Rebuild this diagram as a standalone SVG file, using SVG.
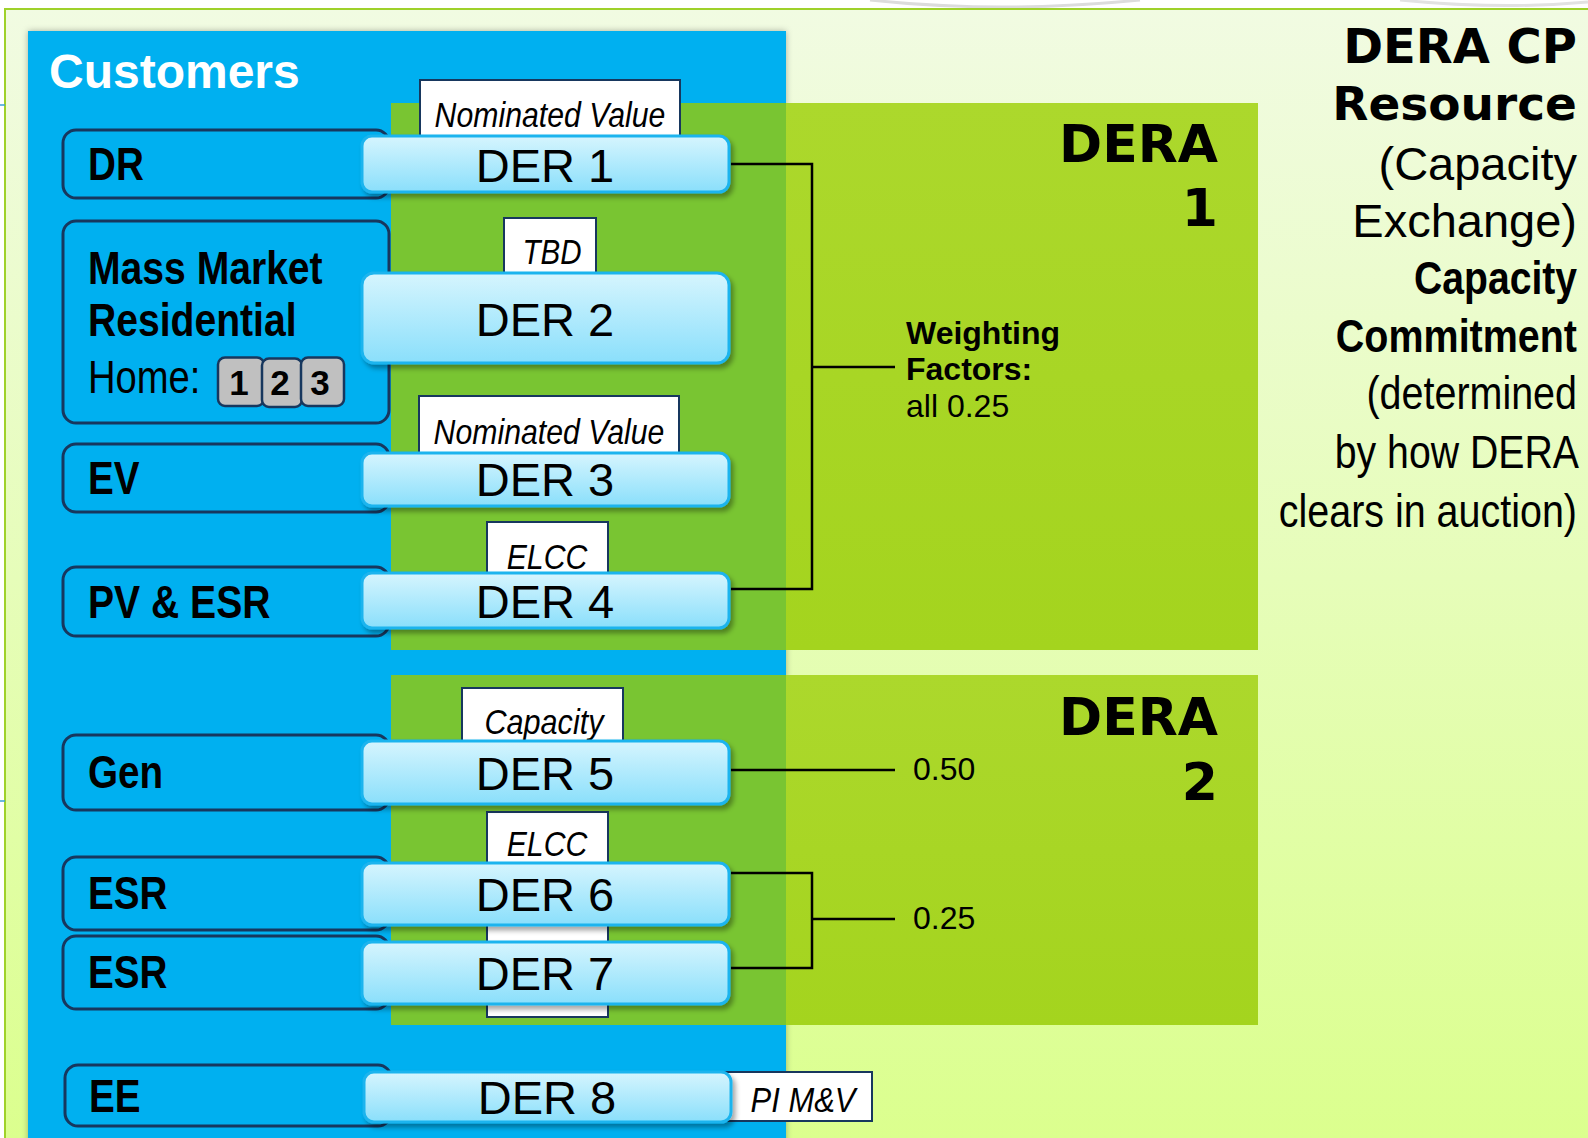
<svg xmlns="http://www.w3.org/2000/svg" width="1588" height="1138" viewBox="0 0 1588 1138">
<defs>
  <linearGradient id="bg" x1="0" y1="0" x2="0" y2="1">
    <stop offset="0" stop-color="#f1fbe2"/>
    <stop offset="0.5" stop-color="#e6fdb9"/>
    <stop offset="1" stop-color="#dbff8d"/>
  </linearGradient>
  <linearGradient id="derFill" x1="0" y1="0" x2="0" y2="1">
    <stop offset="0" stop-color="#d6f5fe"/>
    <stop offset="1" stop-color="#8adffb"/>
  </linearGradient>
  <linearGradient id="deraR" x1="0" y1="0" x2="0" y2="1">
    <stop offset="0" stop-color="#acd82c"/>
    <stop offset="1" stop-color="#a4d41e"/>
  </linearGradient>
  <filter id="shadow" x="-10%" y="-20%" width="125%" height="160%">
    <feDropShadow dx="3" dy="4" stdDeviation="2.5" flood-color="#000" flood-opacity="0.35"/>
  </filter>
  <filter id="panelShadow" x="-5%" y="-5%" width="110%" height="110%">
    <feDropShadow dx="0" dy="0" stdDeviation="3" flood-color="#000" flood-opacity="0.3"/>
  </filter>
</defs>
<style>
  .cust { fill: #00b0f0; stroke: #17375e; stroke-width: 3; }
  .lbl { fill: #ffffff; stroke: #17375e; stroke-width: 2; }
  .der { fill: url(#derFill); stroke: #1ab4ee; stroke-width: 3; filter: url(#shadow); }
  .num { fill: #c0c0c0; stroke: #17375e; stroke-width: 2.5; }
  .cl { font-family: "Liberation Sans", Arial, sans-serif; font-weight: bold; font-size: 46px; fill: #000; }
  .reg { font-family: "Liberation Sans", Arial, sans-serif; font-size: 46px; fill: #000; }
  .it { font-family: "Liberation Sans", Arial, sans-serif; font-style: italic; font-size: 36px; fill: #000; text-anchor: middle; }
  .dt { font-family: "Liberation Sans", Arial, sans-serif; font-size: 47px; fill: #000; text-anchor: middle; }
  .wt { font-family: "Liberation Sans", Arial, sans-serif; font-size: 32px; fill: #000; }
  .heavy { font-family: "DejaVu Sans", sans-serif; font-weight: bold; fill: #000; text-anchor: end; }
  .conn { fill: none; stroke: #000; stroke-width: 2.5; }
</style>

<!-- background -->
<rect x="0" y="0" width="1588" height="1138" fill="#ffffff"/>
<path d="M870 0 Q1000 14 1140 0" fill="none" stroke="#dcdcdc" stroke-width="3"/>
<path d="M1400 0 Q1500 10 1588 2" fill="none" stroke="#e2e2e2" stroke-width="3"/>
<rect x="5" y="9" width="1590" height="1140" fill="url(#bg)" stroke="#9fd12a" stroke-width="2"/>
<line x1="0" y1="105" x2="5" y2="105" stroke="#3aa0d8" stroke-width="1.5"/>
<line x1="0" y1="801" x2="5" y2="801" stroke="#3aa0d8" stroke-width="1.5"/>

<!-- customers panel -->
<g id="customers-panel">
  <rect x="28" y="31" width="758" height="1120" fill="#00b0f0" filter="url(#panelShadow)"/>
  <text x="49" y="88" font-family="Liberation Sans, Arial, sans-serif" font-weight="bold" font-size="48" fill="#ffffff">Customers</text>
</g>

<!-- DERA groups -->
<g id="dera1">
  <rect x="391" y="103" width="395" height="547" fill="#79c532"/>
  <rect x="786" y="103" width="472" height="547" fill="url(#deraR)"/>
  <text class="heavy" x="1218" y="162" font-size="52">DERA</text>
  <text class="heavy" x="1218" y="226" font-size="52">1</text>
</g>
<g id="dera2">
  <rect x="391" y="675" width="395" height="350" fill="#79c532"/>
  <rect x="786" y="675" width="472" height="350" fill="url(#deraR)"/>
  <text class="heavy" x="1218" y="735" font-size="52">DERA</text>
  <text class="heavy" x="1218" y="800" font-size="52">2</text>
</g>

<!-- customer boxes -->
<g id="cust-dr"><rect class="cust" x="63" y="130" width="326" height="68" rx="13"/>
  <text class="cl" transform="translate(88,180) scale(0.84,1)">DR</text></g>
<g id="cust-mass"><rect class="cust" x="63" y="221" width="326" height="202" rx="13"/>
  <text class="cl" transform="translate(88,284) scale(0.85,1)">Mass Market</text>
  <text class="cl" transform="translate(88,336) scale(0.85,1)">Residential</text>
  <text class="reg" transform="translate(88,393) scale(0.83,1)">Home:</text>
  <g id="home-numbers">
    <rect class="num" x="218" y="357.5" width="46" height="48.5" rx="7"/>
    <rect class="num" x="262" y="358.5" width="40" height="48.5" rx="7"/>
    <rect class="num" x="301" y="357.5" width="43" height="48.5" rx="7"/>
    <text x="239" y="395" font-family="Liberation Sans, Arial, sans-serif" font-weight="bold" font-size="35" text-anchor="middle">1</text>
    <text x="280" y="395" font-family="Liberation Sans, Arial, sans-serif" font-weight="bold" font-size="35" text-anchor="middle">2</text>
    <text x="320" y="395" font-family="Liberation Sans, Arial, sans-serif" font-weight="bold" font-size="35" text-anchor="middle">3</text>
  </g></g>
<g id="cust-ev"><rect class="cust" x="63" y="444" width="326" height="68" rx="13"/>
  <text class="cl" transform="translate(88,494) scale(0.84,1)">EV</text></g>
<g id="cust-pv"><rect class="cust" x="63" y="567" width="326" height="69" rx="13"/>
  <text class="cl" transform="translate(88,618) scale(0.85,1)">PV &amp; ESR</text></g>
<g id="cust-gen"><rect class="cust" x="63" y="735" width="326" height="75" rx="13"/>
  <text class="cl" transform="translate(88,788) scale(0.84,1)">Gen</text></g>
<g id="cust-esr1"><rect class="cust" x="63" y="857" width="326" height="73" rx="13"/>
  <text class="cl" transform="translate(88,909) scale(0.84,1)">ESR</text></g>
<g id="cust-esr2"><rect class="cust" x="63" y="936" width="326" height="73" rx="13"/>
  <text class="cl" transform="translate(88,988) scale(0.84,1)">ESR</text></g>
<g id="cust-ee"><rect class="cust" x="65" y="1065" width="326" height="61" rx="13"/>
  <text class="cl" transform="translate(89,1112) scale(0.84,1)">EE</text></g>

<!-- value label boxes -->
<g id="lbl-nv1"><rect class="lbl" x="420" y="80" width="260" height="62"/>
  <text class="it" transform="translate(550,127) scale(0.84,1)">Nominated Value</text></g>
<g id="lbl-tbd"><rect class="lbl" x="504" y="218" width="92" height="60"/>
  <text class="it" transform="translate(552,264) scale(0.82,1)">TBD</text></g>
<g id="lbl-nv2"><rect class="lbl" x="419" y="396" width="260" height="62"/>
  <text class="it" transform="translate(549,444) scale(0.84,1)">Nominated Value</text></g>
<g id="lbl-elcc1"><rect class="lbl" x="487" y="522" width="121" height="56"/>
  <text class="it" transform="translate(547,569) scale(0.84,1)">ELCC</text></g>
<g id="lbl-capacity"><rect class="lbl" x="462" y="688" width="161" height="58"/>
  <text class="it" transform="translate(544,734) scale(0.85,1)">Capacity</text></g>
<g id="lbl-elcc2"><rect class="lbl" x="487" y="812" width="121" height="205"/>
  <text class="it" transform="translate(547,856) scale(0.84,1)">ELCC</text></g>
<g id="lbl-pimv"><rect class="lbl" x="720" y="1072" width="152" height="49"/>
  <text class="it" transform="translate(803,1112) scale(0.86,1)">PI M&amp;V</text></g>

<!-- DER nodes -->
<g id="der1"><rect class="der" x="362" y="136" width="367" height="56" rx="10"/><text class="dt" x="545" y="182">DER 1</text></g>
<g id="der2"><rect class="der" x="362" y="273" width="367" height="90" rx="12"/><text class="dt" x="545" y="336">DER 2</text></g>
<g id="der3"><rect class="der" x="362" y="453" width="367" height="53" rx="10"/><text class="dt" x="545" y="496">DER 3</text></g>
<g id="der4"><rect class="der" x="362" y="573" width="367" height="55" rx="10"/><text class="dt" x="545" y="618">DER 4</text></g>
<g id="der5"><rect class="der" x="362" y="741" width="367" height="63" rx="10"/><text class="dt" x="545" y="790">DER 5</text></g>
<g id="der6"><rect class="der" x="362" y="863" width="367" height="62" rx="10"/><text class="dt" x="545" y="911">DER 6</text></g>
<g id="der7"><rect class="der" x="362" y="942" width="367" height="62" rx="10"/><text class="dt" x="545" y="990">DER 7</text></g>
<g id="der8"><rect class="der" x="364" y="1072" width="367" height="50" rx="10"/><text class="dt" x="547" y="1114">DER 8</text></g>

<!-- connectors -->
<g id="connectors">
  <path class="conn" d="M731 164 H812 V589 H731"/>
  <path class="conn" d="M812 367 H895"/>
  <path class="conn" d="M731 770 H895"/>
  <path class="conn" d="M731 873 H812 V968 H731"/>
  <path class="conn" d="M812 919 H895"/>
</g>

<!-- weighting labels -->
<g id="weights">
  <text class="wt" x="906" y="344" font-weight="bold">Weighting</text>
  <text class="wt" x="906" y="380" font-weight="bold">Factors:</text>
  <text class="wt" x="906" y="417">all 0.25</text>
  <text class="wt" x="913" y="780">0.50</text>
  <text class="wt" x="913" y="929">0.25</text>
</g>

<!-- right description -->
<g id="description">
  <text class="heavy" x="1577" y="63" font-size="48">DERA CP</text>
  <text class="heavy" x="1577" y="120" font-size="47">Resource</text>
  <text x="1577" y="180" font-family="Liberation Sans, Arial, sans-serif" font-size="47" text-anchor="end">(Capacity</text>
  <text x="1577" y="237" font-family="Liberation Sans, Arial, sans-serif" font-size="47" text-anchor="end">Exchange)</text>
  <text class="cl" font-size="45" text-anchor="end" transform="translate(1577,294) scale(0.85,1)">Capacity</text>
  <text class="cl" font-size="45" text-anchor="end" transform="translate(1577,352) scale(0.858,1)">Commitment</text>
  <text class="reg" font-size="45" text-anchor="end" transform="translate(1577,409) scale(0.858,1)">(determined</text>
  <text class="reg" font-size="45" text-anchor="end" transform="translate(1579,468) scale(0.853,1)">by how DERA</text>
  <text class="reg" font-size="45" text-anchor="end" transform="translate(1577,527) scale(0.858,1)">clears in auction)</text>
</g>
</svg>
